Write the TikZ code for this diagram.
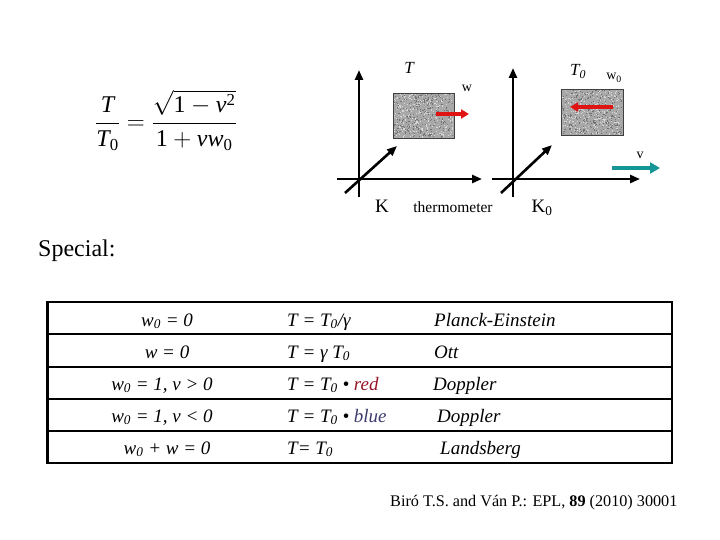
\documentclass[tikz,border=0pt]{standalone}
\usepackage{amsmath}
\usepackage{fontspec}
\setmainfont{Liberation Serif}
\usetikzlibrary{arrows.meta}
\definecolor{arrred}{RGB}{225,20,20}
\definecolor{tealarrow}{RGB}{20,150,150}
\definecolor{boxgray}{RGB}{168,168,168}
\definecolor{darkgrain}{RGB}{115,115,115}
\definecolor{lightgrain}{RGB}{215,215,215}
\definecolor{dred}{RGB}{150,20,40}
\definecolor{dblue}{RGB}{60,60,110}
\newcommand{\grain}[4]{% x y w h
  \foreach \k in {1,...,260}{
    \pgfmathsetmacro{\gx}{#1+0.5+rnd*(#3-2)}
    \pgfmathsetmacro{\gy}{#2+0.5+rnd*(#4-2)}
    \fill[darkgrain] (\gx,\gy) rectangle ++(1.1,1.1);
    \pgfmathsetmacro{\hx}{#1+0.5+rnd*(#3-2)}
    \pgfmathsetmacro{\hy}{#2+0.5+rnd*(#4-2)}
    \fill[lightgrain] (\hx,\hy) rectangle ++(1.1,1.1);
  }}
\begin{document}
\begin{tikzpicture}[x=1pt,y=-1pt,
 axis/.style={line width=2.6pt,-{Triangle[length=10pt,width=8pt]}},
 thermo/.style={fill=boxgray,draw=black!75,line width=0.8pt,inner sep=0pt,anchor=north west},
 redarr/.style={arrred,line width=3.8pt,-{Triangle[length=8pt,width=9pt]}},
 tealarr/.style={tealarrow,line width=4.8pt,-{Triangle[length=10pt,width=11pt]}},
 lbl/.style={inner sep=0pt,anchor=base},
 cell/.style={inner sep=0pt,anchor=base west,font=\fontsize{19}{21}\selectfont\itshape},
 ccell/.style={inner sep=0pt,anchor=base,font=\fontsize{19}{21}\selectfont\itshape},
 tline/.style={line width=2.5pt}
]
\useasboundingbox (0,0) rectangle (720,540);
\pgfmathsetseed{7}

% formula
\node[inner sep=0pt,font=\fontsize{24}{28}\selectfont] (formula) at (166,120)
 {$\displaystyle\frac{\textit{T}}{\textit{T}_{\text{0}}}=\frac{\sqrt{\text{1}-\textit{v}^{\text{2}}}}{\text{1}+\textit{vw}_{\text{0}}}$};

% left frame K
\coordinate (Ktop) at (359,70);
\coordinate (Kbot) at (359,197);
\coordinate (Kl) at (337,179);
\coordinate (Kr) at (482,179);
\coordinate (Kd1) at (345,193);
\coordinate (Kd2) at (397,146);
\draw[axis] (Kbot) -- (Ktop);
\draw[axis] (Kl) -- (Kr);
\draw[axis] (Kd1) -- (Kd2);
\node[thermo,minimum width=61pt,minimum height=45pt] (box1) at (393,93) {};
\grain{393}{93}{61}{45}
\draw[black!75,line width=0.8pt] (box1.north west) rectangle (box1.south east);
\coordinate (w1s) at (436,114);
\coordinate (w1e) at (469,114);
\draw[redarr] (w1s) -- (w1e);

% right frame K0
\coordinate (K0top) at (513,68);
\coordinate (K0bot) at (513,197);
\coordinate (K0l) at (492,179);
\coordinate (K0r) at (640,179);
\coordinate (K0d1) at (501,193);
\coordinate (K0d2) at (552,145);
\draw[axis] (K0bot) -- (K0top);
\draw[axis] (K0l) -- (K0r);
\draw[axis] (K0d1) -- (K0d2);
\node[thermo,minimum width=62pt,minimum height=46pt] (box2) at (561,89) {};
\grain{561}{89}{62}{46}
\draw[black!75,line width=0.8pt] (box2.north west) rectangle (box2.south east);
\coordinate (w0s) at (613,107);
\coordinate (w0e) at (570,107);
\draw[redarr] (w0s) -- (w0e);
\coordinate (vs) at (612,168);
\coordinate (ve) at (660,168);
\draw[tealarr] (vs) -- (ve);

% labels
\node[lbl,font=\fontsize{17}{19}\selectfont\itshape] (Tlab) at (409,74) {T};
\node[lbl,font=\fontsize{17}{19}\selectfont\itshape] (T0lab) at (578,76) {T\textsubscript{0}};
\node[lbl,font=\fontsize{14}{16}\selectfont] (wlab) at (467,92) {w};
\node[lbl,font=\fontsize{14}{16}\selectfont] (w0lab) at (614,80) {w\textsubscript{0}};
\node[lbl,font=\fontsize{14}{16}\selectfont] (vlab) at (640,159) {v};
\node[lbl,font=\fontsize{19}{21}\selectfont] (Klab) at (382,212) {K};
\node[lbl,font=\fontsize{15.5}{17}\selectfont] (thlab) at (453,213) {thermometer};
\node[lbl,font=\fontsize{19}{21}\selectfont] (K0lab) at (542,213) {K\textsubscript{0}};

\node[inner sep=0pt,anchor=base west,font=\fontsize{24}{26}\selectfont] (special) at (38,256) {Special:};

% table
\draw[tline] (47.5,302) rectangle (672,463);
\draw[tline] (47.5,334) -- (672,334);
\draw[tline] (47.5,367) -- (672,367);
\draw[tline] (47.5,399) -- (672,399);
\draw[tline] (47.5,431) -- (672,431);

\node[ccell] (r1a) at (167,326) {w\textsubscript{0} = 0};
\node[cell] (r1b) at (287,326) {T = T\textsubscript{0}/γ};
\node[cell] (r1c) at (434,326) {Planck-Einstein};

\node[ccell] (r2a) at (167,358) {w = 0};
\node[cell] (r2b) at (287,358) {T = γ T\textsubscript{0}};
\node[cell] (r2c) at (434,358) {Ott};

\node[ccell] (r3a) at (162,390) {w\textsubscript{0} = 1, v > 0};
\node[cell] (r3b) at (287,390) {T = T\textsubscript{0} • \textcolor{dred}{red}};
\node[cell] (r3c) at (433,390) {Doppler};

\node[ccell] (r4a) at (162,422) {w\textsubscript{0} = 1, v < 0};
\node[cell] (r4b) at (287,422) {T = T\textsubscript{0} • \textcolor{dblue}{blue}};
\node[cell] (r4c) at (437,422) {Doppler};

\node[ccell] (r5a) at (167,454) {w\textsubscript{0} + w = 0};
\node[cell] (r5b) at (287,454) {T= T\textsubscript{0}};
\node[cell] (r5c) at (440,454) {Landsberg};

\node[inner sep=0pt,anchor=base west,font=\fontsize{16.2}{18}\selectfont] (cite) at (390,506) {Biró T.S. and Ván P.: EPL, \textbf{89} (2010) 30001};
\end{tikzpicture}
\end{document}
